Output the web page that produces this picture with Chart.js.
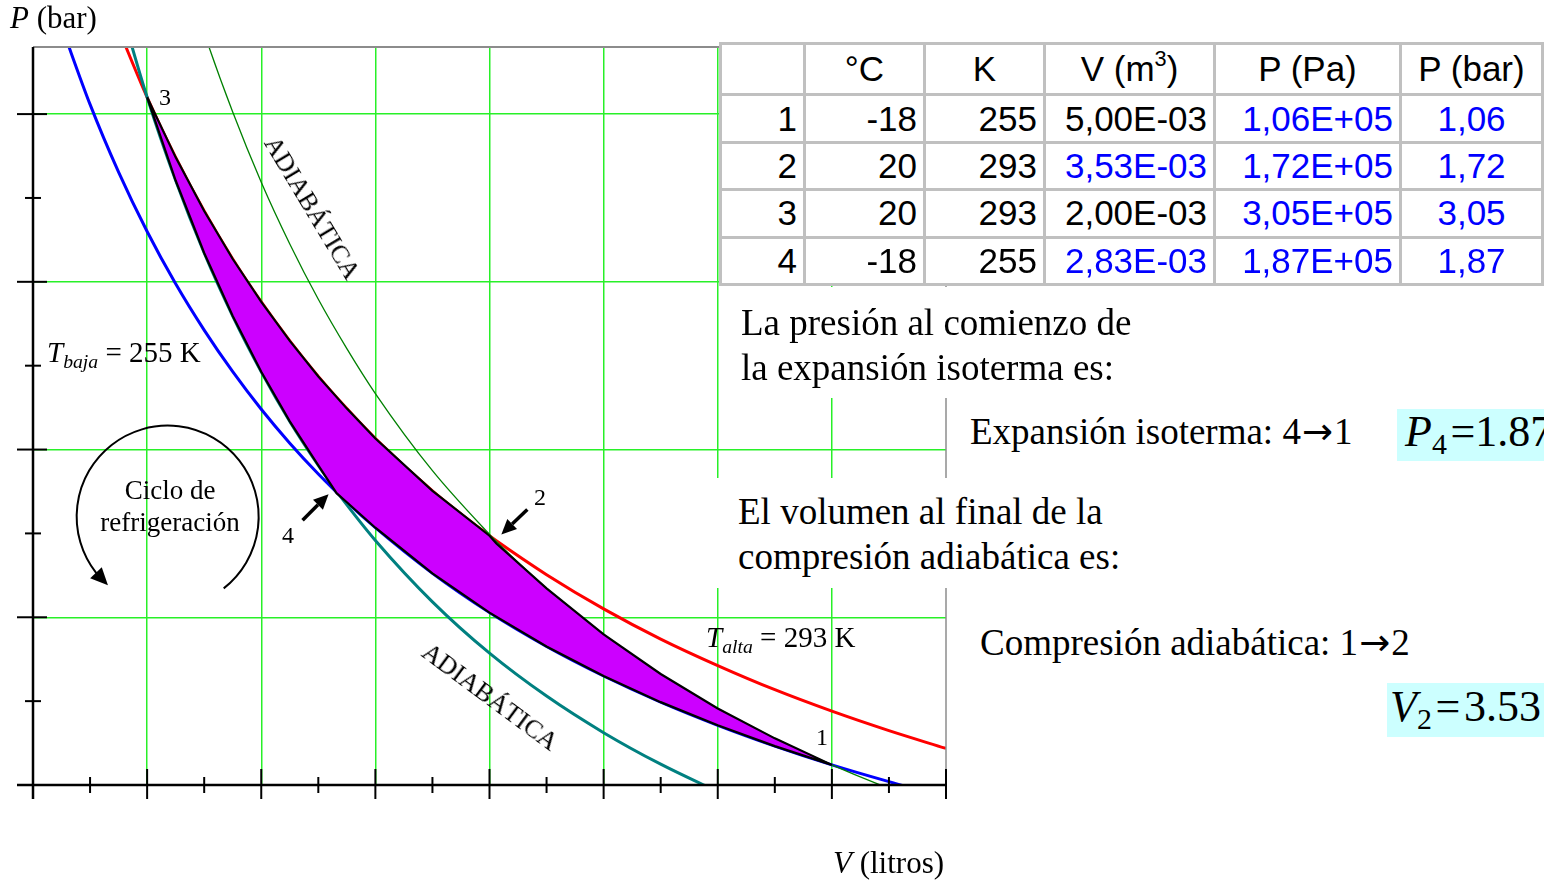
<!DOCTYPE html>
<html>
<head>
<meta charset="utf-8">
<title>Ciclo de refrigeración</title>
<script src="https://cdn.jsdelivr.net/npm/chart.js@4.4.1/dist/chart.umd.min.js"></script>
<style>
  html, body { margin: 0; padding: 0; background: #fff; }
  #wrap { position: relative; width: 1544px; height: 883px; overflow: hidden; background: #fff;
          font-family: "Liberation Serif", "Times New Roman", serif; color: #000; }
  #c { position: absolute; left: 0; top: 0; }
  .t { position: absolute; white-space: nowrap; line-height: 1; }
  .sub { font-size: 0.68em; position: relative; top: 0.28em; }
  .arr { font-family: "DejaVu Sans", sans-serif; font-size: 1em; margin: 0 1px; }
  .box { position: absolute; background: #fff; }
  .hl { position: absolute; background: #ccffff; }
  #tbl { position: absolute; background: #c0c0c0; }
  .cell { position: absolute; background: #fff; display: flex; align-items: center;
          font-family: "Liberation Sans", Arial, sans-serif; font-size: 35px; box-sizing: border-box; }
  .cell sup { font-size: 0.62em; vertical-align: 0.7em; line-height: 0; }
  .r { justify-content: flex-end; padding-right: 6px; }
  .c { justify-content: center; }
  .blue { color: #0000ff; }
</style>
</head>
<body>
<div id="wrap">
  <canvas id="c" width="1544" height="883"></canvas>

  <!-- axis titles -->
  <div class="t" style="left:10px;top:2px;font-size:31px;"><i>P</i> (bar)</div>
  <div class="t" style="left:833px;top:847px;font-size:31px;"><i>V</i> (litros)</div>

  <!-- state numbers -->
  <div class="t" style="left:159px;top:85px;font-size:24px;">3</div>
  <div class="t" style="left:534px;top:485px;font-size:24px;">2</div>
  <div class="t" style="left:282px;top:523px;font-size:24px;">4</div>
  <div class="t" style="left:816px;top:725px;font-size:24px;">1</div>

  <!-- isotherm labels -->
  <div class="t" style="left:47px;top:338px;font-size:29px;"><i>T</i><i class="sub">baja</i> = 255 K</div>
  <div class="t" style="left:706px;top:623px;font-size:29px;"><i>T</i><i class="sub">alta</i> = 293 K</div>

  <!-- adiabat labels -->
  <div class="t" style="left:312px;top:208px;font-size:26px;transform:translate(-50%,-50%) rotate(59deg);">ADIABÁTICA</div>
  <div class="t" style="left:490px;top:697px;font-size:26px;transform:translate(-50%,-50%) rotate(36.5deg);">ADIABÁTICA</div>

  <!-- cycle caption -->
  <div class="t" style="left:170px;top:477px;font-size:27px;transform:translateX(-50%);">Ciclo de</div>
  <div class="t" style="left:170px;top:509px;font-size:27px;transform:translateX(-50%);">refrigeración</div>

  <!-- state table -->
  <div id="tbl"></div>

  <!-- explanatory text blocks -->
  <div class="box" style="left:719px;top:287px;width:825px;height:111px;"></div>
  <div class="t" style="left:741px;top:304px;font-size:37px;">La presión al comienzo de</div>
  <div class="t" style="left:741px;top:349px;font-size:37px;">la expansión isoterma es:</div>

  <div class="box" style="left:947px;top:398px;width:597px;height:80px;"></div>
  <div class="t" style="left:970px;top:413px;font-size:37px;">Expansión isoterma: 4<span class="arr">→</span>1</div>
  <div class="hl" style="left:1397px;top:409px;width:147px;height:52px;"></div>
  <div class="t" style="left:1405px;top:410px;font-size:44px;"><i>P</i><span class="sub">4</span>&#8202;=1.87</div>

  <div class="box" style="left:716px;top:478px;width:828px;height:110px;"></div>
  <div class="t" style="left:738px;top:493px;font-size:37px;">El volumen al final de la</div>
  <div class="t" style="left:738px;top:538px;font-size:37px;">compresión adiabática es:</div>

  <div class="box" style="left:947px;top:588px;width:597px;height:295px;"></div>
  <div class="t" style="left:980px;top:624px;font-size:37px;">Compresión adiabática: 1<span class="arr">→</span>2</div>
  <div class="hl" style="left:1387px;top:683px;width:157px;height:54px;"></div>
  <div class="t" style="left:1390px;top:685px;font-size:44px;"><i>V</i><span class="sub">2</span>&#8202;=&#8202;3.53</div>
</div>

<script>
// ---- states of the cycle (SI units, as in the table) ----
const stateNames  = ['1', '2', '3', '4'];
const stateTempC  = [-18, 20, 20, -18];
const stateTempK  = [255, 293, 293, 255];
const stateVolM3  = [5.00e-3, 3.53e-3, 2.00e-3, 2.83e-3];
const statePresPa = [1.06e5, 1.72e5, 3.05e5, 1.87e5];

// ---- curves: V in litres, P in bar ----
// isotherm T alta = 293 K
const isoAltaV = [1.875, 2.0, 2.125, 2.25, 2.375, 2.5, 2.625, 2.75, 2.875, 3.0, 3.25, 3.5, 3.53, 3.75, 4.0, 4.25, 4.5, 4.75, 5.0, 5.25, 5.5];
const isoAltaP = [3.253, 3.05, 2.871, 2.711, 2.568, 2.44, 2.324, 2.218, 2.122, 2.033, 1.877, 1.743, 1.728, 1.627, 1.525, 1.435, 1.356, 1.284, 1.22, 1.162, 1.109];
// isotherm T baja = 255 K
const isoBajaV = [1.625, 1.75, 1.875, 2.0, 2.125, 2.25, 2.375, 2.5, 2.625, 2.75, 2.83, 2.875, 3.0, 3.25, 3.5, 3.75, 4.0, 4.25, 4.5, 4.75, 5.0, 5.25, 5.5];
const isoBajaP = [3.262, 3.029, 2.827, 2.65, 2.494, 2.356, 2.232, 2.12, 2.019, 1.927, 1.873, 1.843, 1.767, 1.631, 1.514, 1.413, 1.325, 1.247, 1.178, 1.116, 1.06, 1.010, 0.964];
// adiabat through states 1 and 2
const adiab12V = [2.125, 2.25, 2.375, 2.5, 2.625, 2.75, 2.875, 3.0, 3.25, 3.5, 3.53, 3.75, 4.0, 4.25, 4.5, 4.75, 5.0, 5.25, 5.5];
const adiab12P = [3.512, 3.242, 3.006, 2.797, 2.613, 2.448, 2.301, 2.167, 1.937, 1.747, 1.726, 1.586, 1.449, 1.331, 1.228, 1.139, 1.06, 0.990, 0.928];
// adiabat through states 3 and 4
const adiab34V = [1.875, 2.0, 2.125, 2.25, 2.375, 2.5, 2.625, 2.75, 2.83, 2.875, 3.0, 3.25, 3.5, 3.75, 4.0, 4.25, 4.5];
const adiab34P = [3.339, 3.05, 2.802, 2.586, 2.398, 2.232, 2.084, 1.953, 1.876, 1.835, 1.729, 1.546, 1.393, 1.265, 1.156, 1.062, 0.980];

// ---- axis ranges and tick positions ----
const volRange  = [1.5, 5.5];
const presRange = [1.0, 3.2];
const volGrid   = [2.0, 2.5, 3.0, 3.5, 4.0, 4.5, 5.0];
const volMajor  = [2.0, 2.5, 3.0, 3.5, 4.0, 4.5, 5.0, 5.5];
const volMinor  = [1.75, 2.25, 2.75, 3.25, 3.75, 4.25, 4.75, 5.25];
const presGrid  = [1.5, 2.0, 2.5, 3.0];
const presMajor = [1.0, 1.5, 2.0, 2.5, 3.0];
const presMinor = [1.25, 1.75, 2.25, 2.75];

// ---- table layout ----
const colEdges = [720.5, 804.5, 924.5, 1044.5, 1214.5, 1400.5, 1542.5];
const rowEdges = [43.5, 94.5, 142.5, 189.5, 237, 284.5];
const headers  = ['', '°C', 'K', 'V (m<sup>3</sup>)', 'P (Pa)', 'P (bar)'];
const blueCells = { vol: [false, true, false, true], pa: [true, true, true, true], bar: [true, true, true, true] };

function sci(v) {
  const [m, e] = v.toExponential(2).split('e');
  const n = parseInt(e, 10);
  return m.replace('.', ',') + 'E' + (n < 0 ? '-' : '+') + String(Math.abs(n)).padStart(2, '0');
}
function comma(v) { return v.toFixed(2).replace('.', ','); }

(function buildTable() {
  const tbl = document.getElementById('tbl');
  const L = colEdges[0] - 1.5, T = rowEdges[0] - 1.5;
  tbl.style.left = L + 'px';
  tbl.style.top = T + 'px';
  tbl.style.width = (colEdges[colEdges.length - 1] + 1.5 - L) + 'px';
  tbl.style.height = (rowEdges[rowEdges.length - 1] + 1.5 - T) + 'px';
  const rows = [headers.map(h => ({ html: h, cls: 'c' }))];
  for (let i = 0; i < stateNames.length; i++) {
    rows.push([
      { html: stateNames[i], cls: 'r' },
      { html: String(stateTempC[i]), cls: 'r' },
      { html: String(stateTempK[i]), cls: 'r' },
      { html: sci(stateVolM3[i]), cls: 'r' + (blueCells.vol[i] ? ' blue' : '') },
      { html: sci(statePresPa[i]), cls: 'r' + (blueCells.pa[i] ? ' blue' : '') },
      { html: comma(statePresPa[i] / 1e5), cls: 'c' + (blueCells.bar[i] ? ' blue' : '') }
    ]);
  }
  rows.forEach((row, r) => {
    row.forEach((cell, c) => {
      const d = document.createElement('div');
      d.className = 'cell ' + cell.cls;
      d.style.left = (colEdges[c] + 1.5 - L) + 'px';
      d.style.top = (rowEdges[r] + 1.5 - T) + 'px';
      d.style.width = (colEdges[c + 1] - colEdges[c] - 3) + 'px';
      d.style.height = (rowEdges[r + 1] - rowEdges[r] - 3) + 'px';
      d.innerHTML = '<span>' + cell.html + '</span>';
      tbl.appendChild(d);
    });
  });
})();

// ---- chart datasets ----
const toPts = (vs, ps) => vs.map((v, i) => ({ x: v, y: ps[i] }));
const inside = (vs, ps, a, b) => toPts(vs, ps).filter(p => p.x > a + 1e-6 && p.x < b - 1e-6);

const sV = stateVolM3.map(v => v * 1000);   // litres
const sP = statePresPa.map(p => p / 1e5);   // bar
const st = i => ({ x: sV[i], y: sP[i] });

// closed path 3 -> 2 (isotherm) -> 1 (adiabat) -> 4 (isotherm) -> 3 (adiabat)
const cyclePts = [
  st(2), ...inside(isoAltaV, isoAltaP, sV[2], sV[1]),
  st(1), ...inside(adiab12V, adiab12P, sV[1], sV[0]),
  st(0), ...inside(isoBajaV, isoBajaP, sV[3], sV[0]).reverse(),
  st(3), ...inside(adiab34V, adiab34P, sV[2], sV[3]).reverse(),
  st(2)
];

const curve = (data, color, width, order) => ({
  data, showLine: true, borderColor: color, borderWidth: width, pointRadius: 0,
  fill: false, cubicInterpolationMode: 'monotone', order
});

const gridGreen = 'rgb(40,240,40)';

// axes, tick marks, frame, cycle arrows
const decor = {
  id: 'decor',
  afterDatasetsDraw(chart) {
    const { ctx, chartArea: a, scales: { x, y } } = chart;
    ctx.save();
    // frame (top and right)
    ctx.strokeStyle = '#8c8c8c';
    ctx.lineWidth = 2;
    ctx.beginPath(); ctx.moveTo(a.left, a.top); ctx.lineTo(a.right, a.top); ctx.stroke();
    ctx.lineWidth = 1.5;
    ctx.beginPath(); ctx.moveTo(a.right, a.top); ctx.lineTo(a.right, a.bottom); ctx.stroke();

    // axes
    const xa = x.getPixelForValue(volRange[0]);
    const ya = y.getPixelForValue(presRange[0]);
    ctx.strokeStyle = '#000';
    ctx.lineWidth = 2.5;
    ctx.beginPath(); ctx.moveTo(xa, a.top); ctx.lineTo(xa, ya + 14); ctx.stroke();
    ctx.beginPath(); ctx.moveTo(xa - 16, ya); ctx.lineTo(a.right, ya); ctx.stroke();

    // tick marks
    ctx.lineWidth = 2;
    presMajor.forEach(v => { const p = y.getPixelForValue(v); ctx.beginPath(); ctx.moveTo(xa - 16, p); ctx.lineTo(xa + 14, p); ctx.stroke(); });
    presMinor.forEach(v => { const p = y.getPixelForValue(v); ctx.beginPath(); ctx.moveTo(xa - 8, p); ctx.lineTo(xa + 8, p); ctx.stroke(); });
    volMajor.forEach(v => { const p = x.getPixelForValue(v); ctx.beginPath(); ctx.moveTo(p, ya - 16); ctx.lineTo(p, ya + 14); ctx.stroke(); });
    volMinor.forEach(v => { const p = x.getPixelForValue(v); ctx.beginPath(); ctx.moveTo(p, ya - 8); ctx.lineTo(p, ya + 8); ctx.stroke(); });

    // circular arrow showing the direction of the cycle
    const cx = x.getPixelForValue(2.09), cy = y.getPixelForValue(1.80), r = 91;
    const rad = d => d * Math.PI / 180;
    ctx.lineWidth = 2;
    ctx.beginPath(); ctx.arc(cx, cy, r, rad(52), rad(140), true); ctx.stroke();
    const bx = cx + r * Math.cos(rad(142)), by = cy + r * Math.sin(rad(142));
    const tx = cx + r * Math.cos(rad(131)), ty = cy + r * Math.sin(rad(131));
    const ang = Math.atan2(ty - by, tx - bx), hw = 8;
    ctx.fillStyle = '#000';
    ctx.beginPath();
    ctx.moveTo(tx, ty);
    ctx.lineTo(bx + hw * Math.sin(ang), by - hw * Math.cos(ang));
    ctx.lineTo(bx - hw * Math.sin(ang), by + hw * Math.cos(ang));
    ctx.closePath(); ctx.fill();

    // pointers to states 4 and 2
    const arrow = (x1, y1, x2, y2) => {
      const an = Math.atan2(y2 - y1, x2 - x1), hl = 15, w = 7;
      const ex = x2 - hl * Math.cos(an), ey = y2 - hl * Math.sin(an);
      ctx.lineWidth = 3.5;
      ctx.beginPath(); ctx.moveTo(x1, y1); ctx.lineTo(ex, ey); ctx.stroke();
      ctx.beginPath(); ctx.moveTo(x2, y2);
      ctx.lineTo(ex + w * Math.sin(an), ey - w * Math.cos(an));
      ctx.lineTo(ex - w * Math.sin(an), ey + w * Math.cos(an));
      ctx.closePath(); ctx.fill();
    };
    const p4x = x.getPixelForValue(sV[3]), p4y = y.getPixelForValue(sP[3]);
    arrow(p4x - 34, p4y + 27, p4x - 8, p4y + 1);
    const p2x = x.getPixelForValue(sV[1]), p2y = y.getPixelForValue(sP[1]);
    arrow(p2x + 31, p2y - 34, p2x + 5, p2y - 9);
    ctx.restore();
  }
};

new Chart(document.getElementById('c'), {
  type: 'scatter',
  data: {
    datasets: [
      {
        data: cyclePts, showLine: true, borderColor: '#000', borderWidth: 2.2,
        backgroundColor: '#cc00ff', fill: 'shape', tension: 0, pointRadius: 0, order: 0
      },
      curve(toPts(adiab12V, adiab12P), '#008000', 1.3, 1),
      curve(toPts(adiab34V, adiab34P), '#008080', 3, 2),
      curve(toPts(isoAltaV, isoAltaP), '#ff0000', 3, 3),
      curve(toPts(isoBajaV, isoBajaP), '#0000ff', 3, 4)
    ]
  },
  options: {
    responsive: false,
    animation: false,
    devicePixelRatio: 1,
    layout: { padding: { left: 33, top: 47, right: 598, bottom: 98 } },
    elements: { line: { capBezierPoints: false } },
    plugins: { legend: { display: false }, tooltip: { enabled: false } },
    scales: {
      x: {
        type: 'linear', min: volRange[0], max: volRange[1],
        afterBuildTicks: s => { s.ticks = volGrid.map(v => ({ value: v })); },
        ticks: { display: false },
        grid: { color: gridGreen, lineWidth: 1.5, drawTicks: false },
        border: { display: false }
      },
      y: {
        type: 'linear', min: presRange[0], max: presRange[1],
        afterBuildTicks: s => { s.ticks = presGrid.map(v => ({ value: v })); },
        ticks: { display: false },
        grid: { color: gridGreen, lineWidth: 1.5, drawTicks: false },
        border: { display: false }
      }
    }
  },
  plugins: [decor]
});
</script>
</body>
</html>
